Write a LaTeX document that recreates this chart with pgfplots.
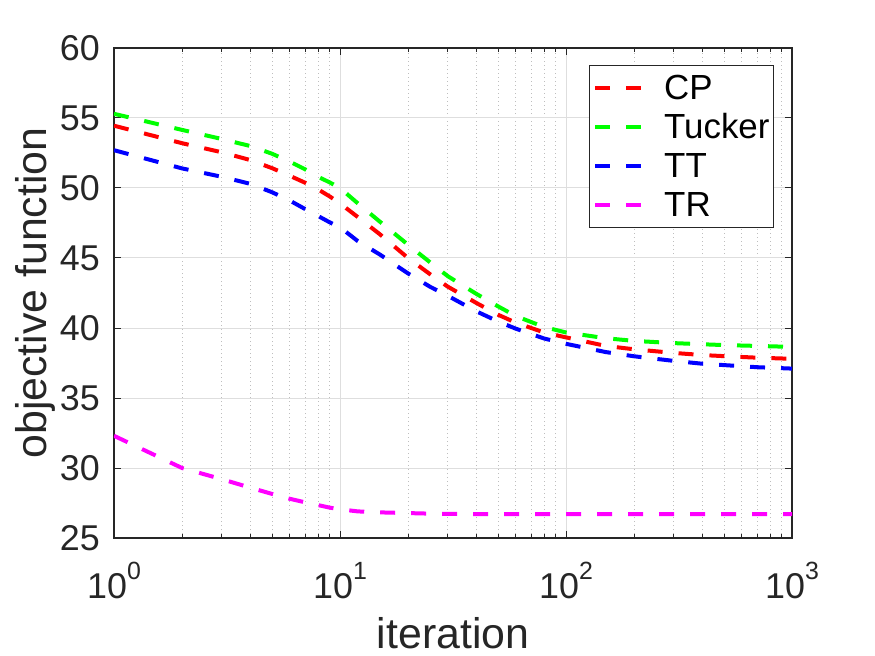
\documentclass[border=0pt]{standalone}
\usepackage{pgfplots}
\usepackage{pgfplotstable}
\pgfplotsset{compat=1.18}
\usepackage{fontspec}
\setmainfont{Liberation Sans}
\definecolor{axc}{RGB}{38,38,38}
\definecolor{gmaj}{RGB}{222,222,222}
\definecolor{gmin}{RGB}{190,190,190}
\definecolor{mred}{RGB}{255,0,0}
\definecolor{mgreen}{RGB}{0,255,0}
\definecolor{mblue}{RGB}{0,0,255}
\definecolor{mmag}{RGB}{255,0,255}
\newcommand{\tp}[1]{10\raisebox{19bp}{\fontsize{25}{25}\selectfont #1}}

\pgfplotstableread{
x cp tucker tt tr
1 54.45 55.30 52.70 32.30
2 53.20 54.15 51.40 30.00
3 52.55 53.50 50.80 29.20
4 52.00 53.00 50.30 28.60
5 51.42 52.45 49.70 28.15
6 50.87 51.88 49.10 27.80
7 50.38 51.34 48.50 27.55
8 49.90 50.80 48.00 27.35
9 49.40 50.40 47.55 27.17
10 48.90 50.00 47.20 27.05
12 47.92 48.90 46.20 26.90
15 46.70 47.60 45.25 26.83
20 45.00 45.95 43.90 26.78
25 43.85 44.70 42.95 26.74
30 42.95 43.70 42.30 26.72
40 41.80 42.45 41.20 26.71
50 40.95 41.55 40.47 26.70
60 40.38 40.85 39.95 26.70
80 39.68 40.07 39.25 26.70
100 39.33 39.68 38.87 26.70
150 38.72 39.27 38.28 26.70
200 38.48 39.08 37.98 26.70
300 38.22 38.92 37.65 26.70
400 38.07 38.84 37.45 26.70
500 37.99 38.78 37.35 26.70
700 37.88 38.72 37.20 26.70
1000 37.80 38.65 37.10 26.70
}\data

\begin{document}
\begin{tikzpicture}
\path[use as bounding box] (-114bp,-118bp) rectangle (761bp,538bp);
\begin{axis}[
  scale only axis, width=678bp, height=490bp,
  xmode=log, xmin=1, xmax=1000, ymin=25, ymax=60,
  xtick={1,10,100,1000}, xticklabels={\tp{0},\tp{1},\tp{2},\tp{3}},
  minor xtick={2,3,4,5,6,7,8,9,20,30,40,50,60,70,80,90,200,300,400,500,600,700,800,900},
  ytick={25,30,35,40,45,50,55,60},
  /pgf/number format/assume math mode=true,
  xmajorgrids, xminorgrids, ymajorgrids,
  major grid style={gmaj, line width=1bp},
  minor grid style={gmin, line width=0.8bp, dash pattern=on 1.2bp off 2.8bp},
  axis line style={axc, line width=1.3bp},
  tick align=inside, xtick pos=both, ytick pos=both,
  major tick length=7bp, minor tick length=4bp,
  major tick style={axc, line width=1bp},
  minor tick style={axc, line width=0.8bp},
  xticklabel style={anchor=base, yshift=-60bp, inner sep=0bp, text=axc, font=\fontsize{36}{36}\selectfont},
  yticklabel style={anchor=east, xshift=-14bp, inner sep=0bp, text=axc, font=\fontsize{36}{36}\selectfont},
  xlabel={iteration},
  ylabel={objective function},
  xlabel style={at={(axis description cs:0.5,0)}, anchor=base, yshift=-110bp, inner sep=0bp, text=axc, font=\fontsize{43}{43}\selectfont},
  ylabel style={at={([xshift=-67bp]axis description cs:0,0.5)}, anchor=base, inner sep=0bp, text=axc, font=\fontsize{43}{43}\selectfont},
  legend cell align=left,
  legend style={at={(1,1)}, anchor=north east, xshift=-18bp, yshift=-17bp,
    draw=axc, line width=1bp, fill=white, inner xsep=4bp, inner ysep=3bp,
    font=\fontsize{35}{35}\selectfont,
    nodes={inner xsep=0bp, inner ysep=0bp, text height=31bp, text depth=8bp},
    /tikz/every even column/.append style={column sep=0bp},
    /tikz/every odd column/.append style={column sep=0bp}},
  legend image code/.code={\path[draw=none] (0bp,0bp) -- (71bp,0bp); \draw[#1] (2bp,0bp) -- (50bp,0bp);},
  every axis plot/.append style={line width=4bp, dash pattern=on 15bp off 16bp},
]
\addplot[color=mred] table[x=x, y=cp] {\data};
\addlegendentry{CP}
\addplot[color=mgreen] table[x=x, y=tucker] {\data};
\addlegendentry{Tucker}
\addplot[color=mblue] table[x=x, y=tt] {\data};
\addlegendentry{TT}
\addplot[color=mmag] table[x=x, y=tr] {\data};
\addlegendentry{TR}
\end{axis}
\end{tikzpicture}
\end{document}
